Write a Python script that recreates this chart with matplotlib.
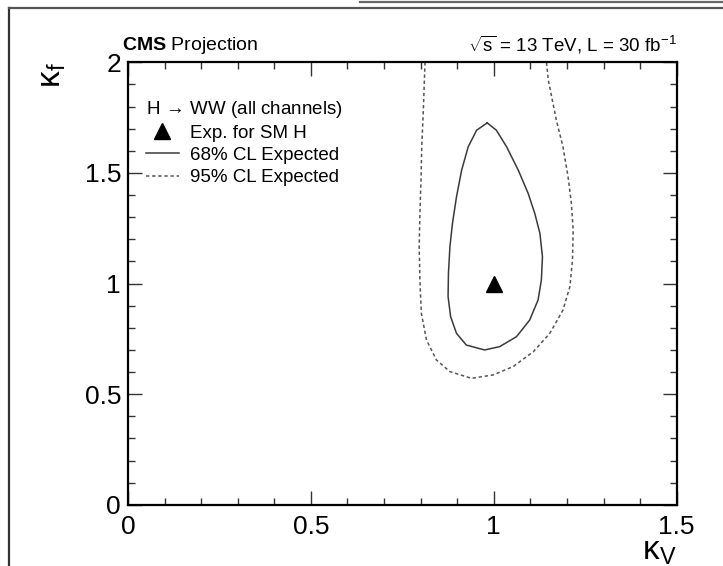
import matplotlib.pyplot as plt
from matplotlib.lines import Line2D

plt.rcParams['font.family'] = ['Liberation Sans', 'DejaVu Sans']
plt.rcParams['mathtext.fontset'] = 'custom'
plt.rcParams['mathtext.rm'] = 'Liberation Sans'
plt.rcParams['mathtext.it'] = 'Liberation Sans:italic'
plt.rcParams['mathtext.bf'] = 'Liberation Sans:bold'

# 68% CL expected contour (closed)
kv_68 = [0.982, 1.007, 1.035, 1.067, 1.094, 1.112, 1.126, 1.133, 1.130, 1.121,
         1.098, 1.062, 1.016, 0.975, 0.925, 0.898, 0.882, 0.875, 0.876, 0.880,
         0.887, 0.898, 0.912, 0.930, 0.953, 0.982]
kf_68 = [1.726, 1.693, 1.618, 1.512, 1.407, 1.317, 1.227, 1.121, 1.016, 0.926,
         0.835, 0.760, 0.715, 0.700, 0.722, 0.775, 0.850, 0.941, 1.046, 1.166,
         1.272, 1.392, 1.512, 1.618, 1.693, 1.726]

# 95% CL expected contour (open, runs off the top)
kv_95 = [0.812, 0.807, 0.803, 0.801, 0.798, 0.796, 0.798, 0.802, 0.816, 0.843,
         0.880, 0.939, 0.998, 1.053, 1.108, 1.153, 1.189, 1.208, 1.215, 1.217,
         1.212, 1.203, 1.189, 1.171, 1.149, 1.144]
kf_95 = [2.000, 1.768, 1.618, 1.467, 1.317, 1.166, 1.016, 0.865, 0.745, 0.655,
         0.602, 0.572, 0.587, 0.625, 0.692, 0.775, 0.880, 0.986, 1.106, 1.242,
         1.362, 1.482, 1.618, 1.738, 1.919, 2.000]

sm_kv = [1.0]
sm_kf = [1.0]

fig = plt.figure(figsize=(7.23, 5.66), dpi=100)
ax = fig.add_axes([0.177, 0.108, 0.759, 0.782])

ax.plot(kv_68, kf_68, color='#3a3a3a', lw=1.1)
ax.plot(kv_95, kf_95, color='#555555', lw=1.1, ls=(0, (2.2, 1.8)))
ax.plot(sm_kv, sm_kf, marker='^', color='black', ms=11, ls='none')

ax.set_xlim(0, 1.5)
ax.set_ylim(0, 2)
ax.set_xticks([0, 0.5, 1, 1.5])
ax.set_xticklabels(['0', '0.5', '1', '1.5'])
ax.set_yticks([0, 0.5, 1, 1.5, 2])
ax.set_yticklabels(['0', '0.5', '1', '1.5', '2'])
ax.set_xticks([i / 10 for i in range(16)], minor=True)
ax.set_yticks([i / 10 for i in range(21)], minor=True)
ax.tick_params(which='both', direction='in', top=True, right=True,
               labelsize=19, width=1.0, color='#333333')
ax.tick_params(which='major', length=10)
ax.tick_params(which='minor', length=5)
ax.tick_params(axis='x', pad=7)
ax.tick_params(axis='y', pad=5)
for s in ax.spines.values():
    s.set_linewidth(1.6)

ax.set_xlabel(r'$\mathrm{\kappa_{V}}$', fontsize=24, loc='right', labelpad=-2)
ax.set_ylabel(r'$\mathrm{\kappa_{f}}$', fontsize=24, loc='top', labelpad=12)

ax.text(-0.01, 1.015, r'$\mathbf{CMS}$ Projection', transform=ax.transAxes,
        fontsize=14, ha='left', va='bottom')
ax.text(1.0, 1.015, r'$\sqrt{\mathrm{s}}$ = 13 TeV, L = 30 fb$^{-1}$',
        transform=ax.transAxes, fontsize=13.5, ha='right', va='bottom')

handles = [
    Line2D([], [], marker='^', color='black', ms=11, ls='none'),
    Line2D([], [], color='#3a3a3a', lw=1.1),
    Line2D([], [], color='#555555', lw=1.1, ls=(0, (2.2, 1.8))),
]
labels = ['Exp. for SM H', '68% CL Expected', '95% CL Expected']
leg = ax.legend(handles, labels, title=r'H$\,{\rightarrow}\,$WW (all channels)',
                loc='upper left', bbox_to_anchor=(0.019, 0.935), frameon=False,
                fontsize=13.5, title_fontsize=13.5, alignment='left',
                handlelength=1.75, handletextpad=0.6, labelspacing=0.27,
                borderaxespad=0.0)

# outer frame of the page
fig.add_artist(Line2D([9 / 723, 9 / 723], [0, 1 - 8 / 566], color='#333333',
                      lw=1.6, transform=fig.transFigure))
fig.add_artist(Line2D([9 / 723, 1], [1 - 8 / 566, 1 - 8 / 566], color='#555555',
                      lw=1.6, transform=fig.transFigure))
fig.add_artist(Line2D([360 / 723, 1], [1 - 1.5 / 566, 1 - 1.5 / 566],
                      color='#666666', lw=1.6, transform=fig.transFigure))

fig.savefig('out.png', dpi=100)
